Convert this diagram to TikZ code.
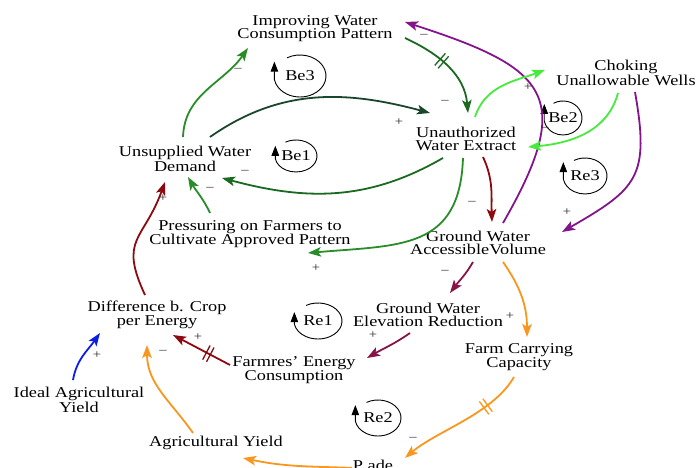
\documentclass[tikz,border=0pt]{standalone}
\usepackage{fontspec}
\setmainfont{Liberation Serif}[FakeStretch=1.22]
\usetikzlibrary{arrows.meta,decorations.markings}

\definecolor{cgreen}{RGB}{40,140,40}
\definecolor{cdkgreen}{RGB}{25,105,30}
\definecolor{cblkgreen}{RGB}{25,70,45}
\definecolor{clime}{RGB}{70,235,60}
\definecolor{cpurple}{RGB}{130,20,140}
\definecolor{cdkred}{RGB}{140,10,15}
\definecolor{cmaroon}{RGB}{135,20,70}
\definecolor{corange}{RGB}{250,150,30}
\definecolor{cblue}{RGB}{10,30,230}

\tikzset{
  varnode/.style={align=center, inner sep=0pt, text=black, font=\fontsize{15}{13.5}\selectfont},
  conn/.style={line width=1.8pt, -{Stealth[length=13pt,width=9.5pt,inset=3pt]}},
  pol/.style={inner sep=0pt, text=black!85, font=\fontsize{12}{12}\selectfont},
  loopmark/.style={line width=0.9pt, black, -{Triangle[length=10pt,width=7.5pt]}},
  delaymark/.style={postaction={decorate},
    decoration={markings, mark=at position #1 with {
      \draw[-, line width=1.3pt] (-2.2pt,-8pt) -- (-2.2pt,8pt) (2.2pt,-8pt) -- (2.2pt,8pt);}}},
}

% loop identifier: name, x, y, x radius, y radius, stem length, label
\newcommand\loopsym[7]{%
  \node[varnode] (#1) at (#2,#3) {#7};
  \draw[loopmark] ([shift={(120:#4pt and #5pt)}]#1.center)
    arc[start angle=120, end angle=-170, x radius=#4pt, y radius=#5pt] -- ++(0,#6);
}

\begin{document}
\begin{tikzpicture}[x=1pt,y=1pt]
\useasboundingbox (0,0) rectangle (697,468);

% variables
\node[varnode] (imp)  at (315,439.5) {Improving Water\\Consumption Pattern};
\node[varnode] (chk)  at (626,395) {Choking\\Unallowable Wells};
\node[varnode] (ue)   at (466,329) {Unauthorized\\Water Extract};
\node[varnode] (ud)   at (185,309) {Unsupplied Water\\Demand};
\node[varnode] (pf)   at (250,234) {Pressuring on Farmers to\\Cultivate Approved Pattern};
\node[varnode] (gwa)  at (478,225) {Ground Water\\AccessibleVolume};
\node[varnode] (gwe)  at (428,153) {Ground Water\\Elevation Reduction};
\node[varnode] (fcc)  at (519,111) {Farm Carrying\\Capacity};
\node[varnode] (diff) at (157,153) {Difference b. Crop\\per Energy};
\node[varnode] (fe)   at (294,98) {Farmres' Energy\\Consumption};
\node[varnode] (iay)  at (79,68) {Ideal Agricultural\\Yield};
\node[varnode] (ay)   at (216,25) {Agricultural Yield};
\node[varnode, anchor=base] (pade) at (373,-3) {P ade};

% loop identifiers
\loopsym{be3}{300}{392}{26}{21}{18}{Be3}
\loopsym{be1}{296}{312}{21}{16}{13}{Be1}
\loopsym{be2}{563}{350}{19}{17}{17}{Be2}
\loopsym{re3}{585}{292}{22}{18}{17}{Re3}
\loopsym{re1}{318}{147}{24}{18}{12}{Re1}
\loopsym{re2}{378}{50}{23}{18}{16}{Re2}

% links
\draw[conn,cgreen] ([shift={(-2,22)}]ud.center) to[out=88,in=-125] ([shift={(-67,-19.5)}]imp.center);
\draw[conn,cdkgreen,delaymark=0.42] ([shift={(90,-9.5)}]imp.center) to[out=-25,in=95] ([shift={(2,26)}]ue.center);
\draw[conn,cblkgreen] ([shift={(25,22)}]ud.center) to[out=35,in=165] ([shift={(-36,26)}]ue.center);
\draw[conn,cdkgreen] ([shift={(-23,-19)}]ue.center) to[out=-150,in=-15] ([shift={(37,-19)}]ud.center);
\draw[conn,cgreen] ([shift={(-40,21)}]pf.center) to[out=115,in=-60] ([shift={(3,-18)}]ud.center);
\draw[conn,cgreen] ([shift={(-3,-19)}]ue.center) to[out=-92,in=5,looseness=1.3] ([shift={(58,-19)}]pf.center);
\draw[conn,cdkred] ([shift={(17,-18)}]ue.center) to[out=-65,in=92] ([shift={(14,21)}]gwa.center);
\draw[conn,cpurple] ([shift={(25,20)}]gwa.center) to[out=60,in=-18,looseness=1.7] ([shift={(90,6.5)}]imp.center);
\draw[conn,clime] ([shift={(9,22)}]ue.center) to[out=72,in=-160] ([shift={(-81,3)}]chk.center);
\draw[conn,clime] ([shift={(-8,-20)}]chk.center) to[out=-105,in=5] ([shift={(62,-8)}]ue.center);
\draw[conn,cpurple] ([shift={(9,-19)}]chk.center) to[out=-80,in=30,looseness=1.4] ([shift={(84,11)}]gwa.center);
\draw[conn,cmaroon] ([shift={(-5,-19)}]gwa.center) to[out=-120,in=53] ([shift={(22,22)}]gwe.center);
\draw[conn,corange] ([shift={(25,-19)}]gwa.center) to[out=-55,in=90] ([shift={(8,20)}]fcc.center);
\draw[conn,cmaroon] ([shift={(-18,-18)}]gwe.center) to[out=-145,in=30] ([shift={(73,12)}]fe.center);
\draw[conn,cdkred,delaymark=0.38] ([shift={(-64,5)}]fe.center) -- ([shift={(16,-20)}]diff.center);
\draw[conn,cdkred] ([shift={(-12,20)}]diff.center) to[out=115,in=-110,looseness=1.4] ([shift={(-20,-23)}]ud.center);
\draw[conn,cblue] ([shift={(-6,20)}]iay.center) to[out=80,in=-125] ([shift={(-57,-18)}]diff.center);
\draw[conn,corange] ([shift={(-23,10)}]ay.center) to[out=125,in=-90] ([shift={(-10,-30)}]diff.center);
\draw[conn,corange,delaymark=0.3] ([shift={(-5,-20)}]fcc.center) to[out=-120,in=40,looseness=0.8] ([shift={(32,8)}]pade.center);
\draw[conn,corange] ([shift={(-21,-2)}]pade.center) to[out=178,in=-12] ([shift={(27,-15)}]ay.center);

% polarities
\node[pol] at (238,398) {–};
\node[pol] at (424,432) {–};
\node[pol] at (445,366) {–};
\node[pol] at (399,346) {+};
\node[pol] at (245,296) {–};
\node[pol] at (210,279) {–};
\node[pol] at (316,200) {+};
\node[pol] at (472,265) {–};
\node[pol] at (528,381) {+};
\node[pol] at (545,339) {–};
\node[pol] at (567,256) {+};
\node[pol] at (445,196) {–};
\node[pol] at (510,152) {+};
\node[pol] at (373,133) {+};
\node[pol] at (198,131) {+};
\node[pol] at (163,270) {+};
\node[pol] at (97,113) {+};
\node[pol] at (163,116) {–};
\node[pol] at (413,29) {–};
\end{tikzpicture}
\end{document}
